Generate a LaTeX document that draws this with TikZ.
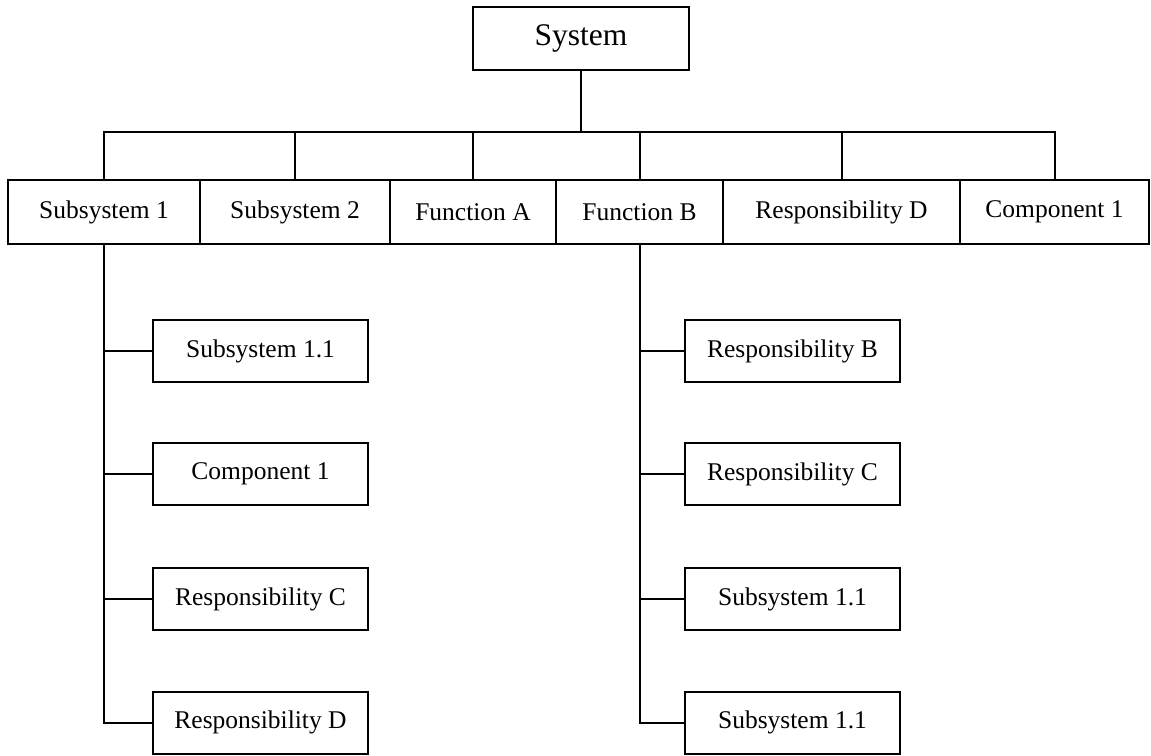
\documentclass[tikz,border=0pt]{standalone}
\usepackage{fontspec}
\setmainfont{Liberation Serif}
\begin{document}
\begin{tikzpicture}[x=1pt,y=-1pt,line width=2pt,
  box/.style={draw,inner sep=0pt,outer sep=0pt,font=\fontsize{25.5}{30}\selectfont},
  rowbox/.style={box,minimum height=64pt},
  leaf/.style={box,minimum width=215pt,minimum height=62pt},
  link/.style={draw,line width=2pt}]
\useasboundingbox (0,0) rectangle (1151,755);

% root
\node[box,minimum width=216pt,minimum height=63pt,font=\fontsize{31.5}{36}\selectfont] (sys) at (581,38.5) {System};

% first level
\node[rowbox,minimum width=192pt] (s1) at (104,212) {Subsystem 1};
\node[rowbox,minimum width=190pt] (s2) at (295,212) {Subsystem 2};
\node[rowbox,minimum width=166pt] (fa) at (473,212) {Function A};
\node[rowbox,minimum width=167pt] (fb) at (639.5,212) {Function B};
\node[rowbox,minimum width=237pt] (rd) at (841.5,212) {Responsibility D};
\node[rowbox,minimum width=189pt] (c1) at (1054.5,212) {Component 1};

% bus between root and first level
\coordinate (bus) at (581,132);
\path[link] (sys.south) -- (bus);
\path[link] (s1.north) |- (bus) -| (c1.north);
\foreach \n in {s2,fa,fb,rd}
  \path[link] (\n.north) -- (\n.north |- bus);

% children of Subsystem 1
\node[leaf] (l1) at (260.5,351) {Subsystem 1.1};
\node[leaf] (l2) at (260.5,474) {Component 1};
\node[leaf] (l3) at (260.5,599) {Responsibility C};
\node[leaf] (l4) at (260.5,722.5) {Responsibility D};
\path[link] (s1.south) |- (l4.west);
\foreach \n in {l1,l2,l3}
  \path[link] (\n.west) -- (\n.west -| s1.south);

% children of Function B
\node[leaf] (r1) at (792.5,351) {Responsibility B};
\node[leaf] (r2) at (792.5,474) {Responsibility C};
\node[leaf] (r3) at (792.5,599) {Subsystem 1.1};
\node[leaf] (r4) at (792.5,722.5) {Subsystem 1.1};
\path[link] (fb.south) |- (r4.west);
\foreach \n in {r1,r2,r3}
  \path[link] (\n.west) -- (\n.west -| fb.south);
\end{tikzpicture}
\end{document}
